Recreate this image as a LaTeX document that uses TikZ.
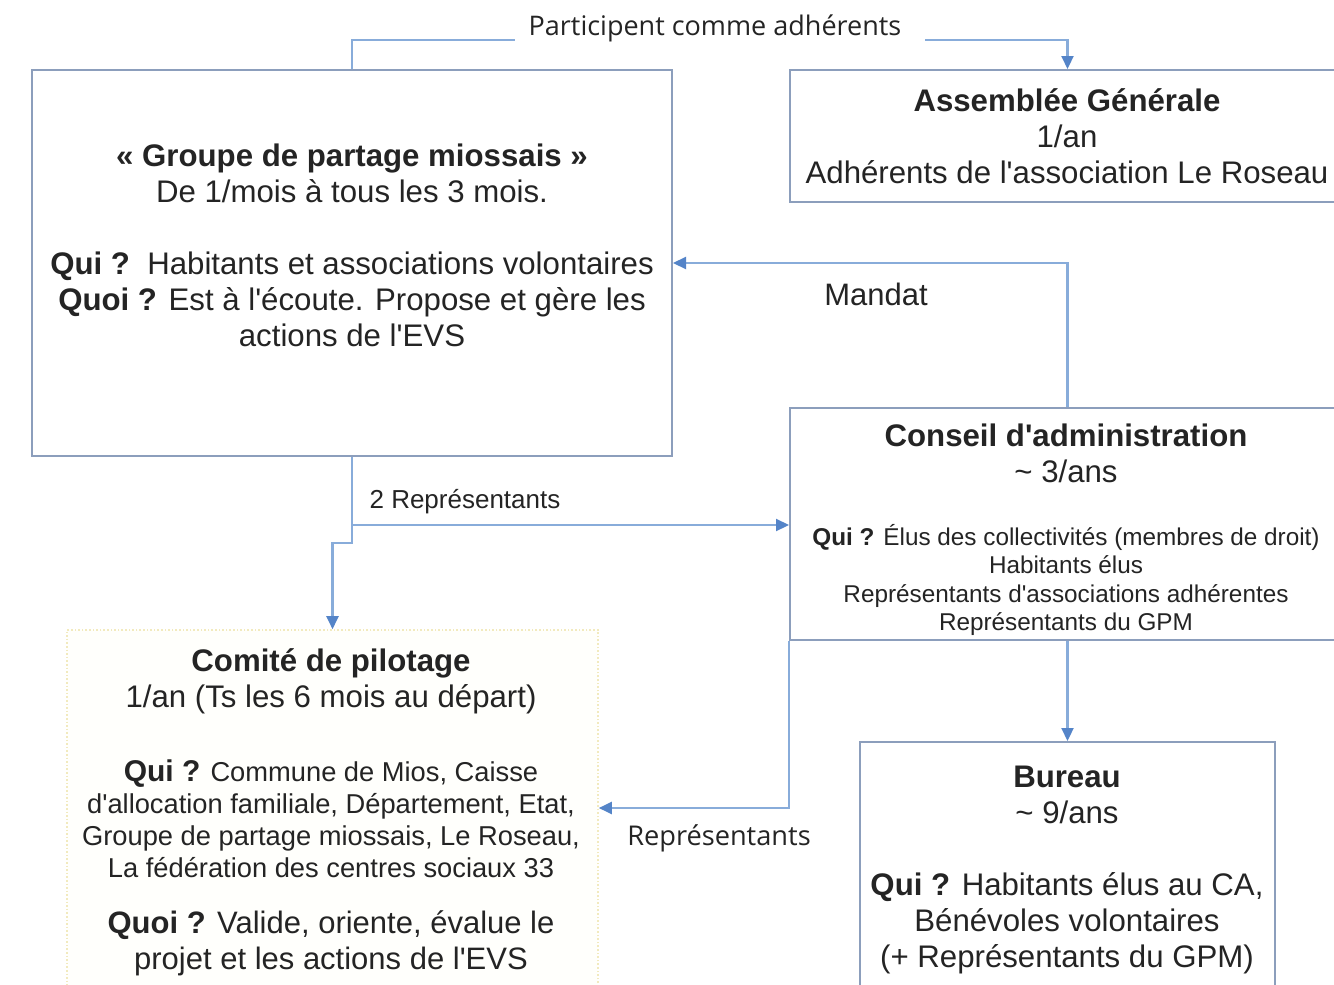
\documentclass[tikz,border=0pt]{standalone}
\usepackage{fontspec}
\setmainfont{Liberation Sans}
\newfontfamily\mainf{Liberation Sans}
\newfontfamily\lblfont{Open Sans}
\usetikzlibrary{arrows.meta}
\definecolor{boxcol}{RGB}{140,158,188}
\definecolor{linecol}{RGB}{136,172,218}
\definecolor{arrcol}{RGB}{84,132,200}
\definecolor{txtcol}{RGB}{36,36,36}
\definecolor{comborder}{RGB}{242,234,190}
\definecolor{comfill}{RGB}{255,255,252}
\tikzset{
  box/.style={draw=boxcol, line width=2pt, rectangle, inner sep=0pt},
  combox/.style={draw=comborder, fill=comfill, line width=1.6pt, dotted, rectangle, inner sep=0pt},
  conn/.style={draw=linecol, line width=2.2pt},
  arr/.style={-{Triangle[length=13pt,width=12pt,fill=arrcol,color=arrcol]}},
  txt/.style={text=txtcol, align=center, inner sep=0pt},
  big/.style={font=\mainf\fontsize{31.2}{36}\selectfont},
  small/.style={font=\mainf\fontsize{24.3}{28.5}\selectfont},
}
\begin{document}
\begin{tikzpicture}[x=1pt,y=-1pt]
\useasboundingbox (0,0) rectangle (1334,985);
\clip (0,0) rectangle (1334,985);
\fill[white] (0,0) rectangle (1334,985);

% boxes
\node[box, minimum width=640pt, minimum height=386pt] (grp) at (352,263) {};
\node[box, minimum width=555pt, minimum height=132pt] (ag) at (1067.5,136) {};
\node[box, minimum width=555pt, minimum height=232pt] (ca) at (1067.5,524) {};
\node[box, minimum width=415pt, minimum height=268pt] (bur) at (1067.5,876) {};
\node[combox, minimum width=531pt, minimum height=380pt] (com) at (332.5,820) {};

% texts
\node[txt, big] (grpT) at (352,245) {\textbf{« Groupe de partage miossais »}\\De 1/mois à tous les 3 mois.\\[36pt]\textbf{Qui ?}\ \ Habitants et associations volontaires\\\textbf{Quoi ?} Est à l'écoute. Propose et gère les\\actions de l'EVS};
\node[txt, big] (agT) at (1067,136) {\textbf{Assemblée Générale}\\1/an\\Adhérents de l'association Le Roseau};
\node[txt, big] (caT) at (1066,453) {\textbf{Conseil d'administration}\\\textasciitilde\ 3/ans};
\node[txt, small] (caB) at (1066,580) {\textbf{Qui ?} Élus des collectivités (membres de droit)\\Habitants élus\\Représentants d'associations adhérentes\\Représentants du GPM};
\node[txt, big] (burT) at (1067,869.5) {\textbf{Bureau}\\\textasciitilde\ 9/ans\\[36pt]\textbf{Qui ?} Habitants élus au CA,\\Bénévoles volontaires\\(+ Représentants du GPM)};
\node[txt, big] (comT) at (331,681.5) {\textbf{Comité de pilotage}\\1/an (Ts les 6 mois au départ)};
\node[txt, font=\mainf\fontsize{27.3}{32}\selectfont] (comQ) at (331,819) {{\fontsize{30}{32}\selectfont\textbf{Qui ?}} Commune de Mios, Caisse\\d'allocation familiale, Département, Etat,\\Groupe de partage miossais, Le Roseau,\\La fédération des centres sociaux 33};
\node[txt, font=\mainf\fontsize{31}{36}\selectfont] (comW) at (331,943) {\textbf{Quoi ?} Valide, oriente, évalue le\\projet et les actions de l'EVS};

% connectors
\coordinate (pL) at (515,40);
\coordinate (pR) at (925,40);
\coordinate (j) at (352,525);
\draw[conn] (grp.north) |- (pL);
\draw[conn, arr] (pR) -| (ag.north);
\draw[conn, arr] (ca.north) |- (grp.east);
\draw[conn, arr] (grp.south) -- (j) -- (ca.west |- j);
\draw[conn, arr] (j) -- ++(0,18) -| (com.north);
\draw[conn, arr] (ca.south west) |- ([yshift=12pt]com.east);
\draw[conn, arr] (ca.south) -- (bur.north);

% labels
\node[txt, font=\lblfont\fontsize{27}{30}\selectfont] (lPart) at (715,28) {Participent comme adhérents};
\node[txt, font=\mainf\fontsize{31}{34}\selectfont] (lMand) at (876,294) {Mandat};
\node[txt, font=\mainf\fontsize{26}{30}\selectfont] (l2Rep) at (465,502) {2 Représentants};
\node[txt, font=\lblfont\fontsize{27.2}{30}\selectfont] (lRep) at (719,838) {Représentants};
\end{tikzpicture}
\end{document}
